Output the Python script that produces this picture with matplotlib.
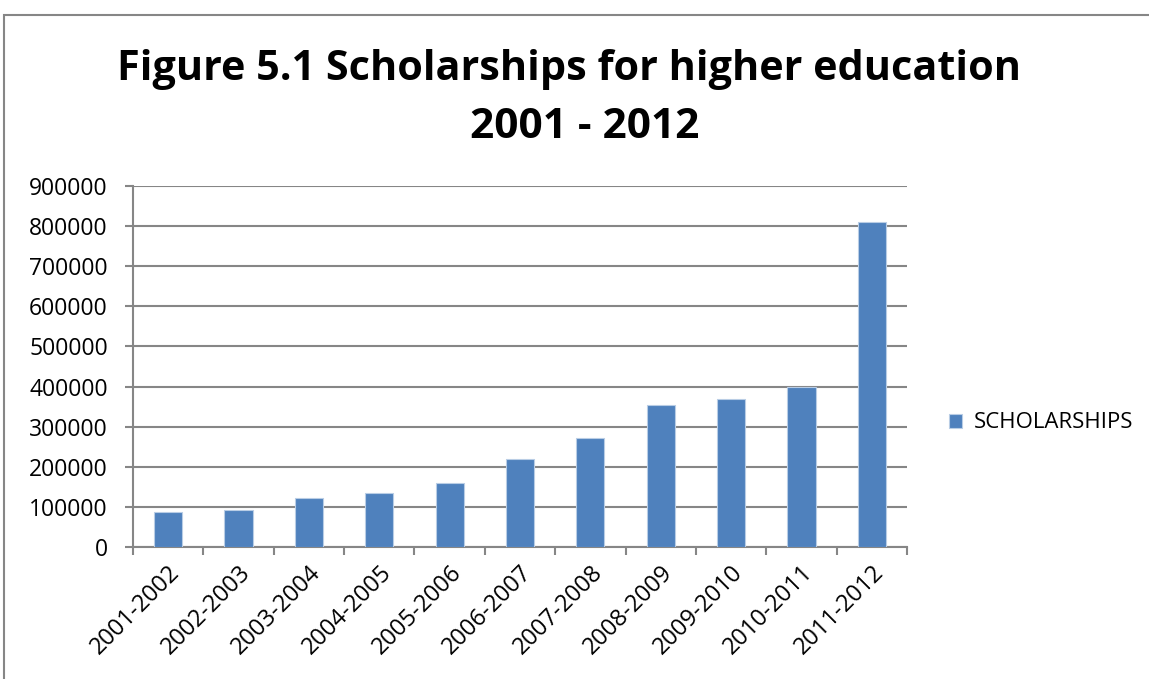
import matplotlib.pyplot as plt
import numpy as np
from matplotlib.patches import Rectangle

# data
years = ['2001-2002', '2002-2003', '2003-2004', '2004-2005', '2005-2006',
         '2006-2007', '2007-2008', '2008-2009', '2009-2010', '2010-2011',
         '2011-2012']
scholarships = [87000, 93000, 121000, 135000, 159000, 219000,
                271000, 354000, 370000, 398000, 811000]
y_ticks = [0, 100000, 200000, 300000, 400000, 500000, 600000,
           700000, 800000, 900000]

plt.rcParams['font.family'] = ['Open Sans', 'DejaVu Sans']

fig = plt.figure(figsize=(11.49, 6.79), dpi=100)
ax = fig.add_axes([133 / 1149, 1 - 547 / 679, (907 - 133) / 1149, (547 - 186) / 679])

# outer chart frame
fig.patches.append(Rectangle((4 / 1149, -0.1), 1.2, 1.1 - 15 / 679,
                             transform=fig.transFigure, fill=False,
                             edgecolor='#868686', linewidth=1.5))

x = np.arange(len(years))
ax.bar(x, scholarships, width=0.4, color='#4F81BD', edgecolor='#B9CDE5',
       linewidth=0.8, zorder=3, label='SCHOLARSHIPS')

ax.set_xlim(-0.5, len(years) - 0.5)
ax.set_ylim(0, 900000)
ax.set_yticks(y_ticks)
ax.set_yticklabels([str(v) for v in y_ticks], fontsize=16.5)
ax.yaxis.grid(True, color='#868686', linewidth=1.5, zorder=0)

ax.set_xticks(x)
ax.set_xticklabels(years, rotation=45, ha='right', rotation_mode='anchor',
                   fontsize=17)
ax.tick_params(axis='x', length=0, pad=10)
ax.set_xticks(np.arange(-0.5, len(years)), minor=True)
ax.tick_params(axis='x', which='minor', length=5.5, width=1.5, color='#868686',
               direction='out')
ax.tick_params(axis='y', length=6, width=1.5, color='#868686', pad=12)

for side in ['top', 'right']:
    ax.spines[side].set_visible(False)
for side in ['left', 'bottom']:
    ax.spines[side].set_color('#868686')
    ax.spines[side].set_linewidth(1.5)

fig.text(0.495, 1 - 69 / 679, 'Figure 5.1 Scholarships for higher education',
         ha='center', va='center', fontsize=29.8, fontweight='bold')
fig.text(0.509, 1 - 127 / 679, '2001 - 2012', ha='center', va='center',
         fontsize=30.5, fontweight='bold')

fig.legend(loc='center left', bbox_to_anchor=(929 / 1149, 1 - 423 / 679),
           frameon=False, fontsize=16, handlelength=0.6, handleheight=0.6,
           handletextpad=0.5)

fig.savefig('out.png', dpi=100)
